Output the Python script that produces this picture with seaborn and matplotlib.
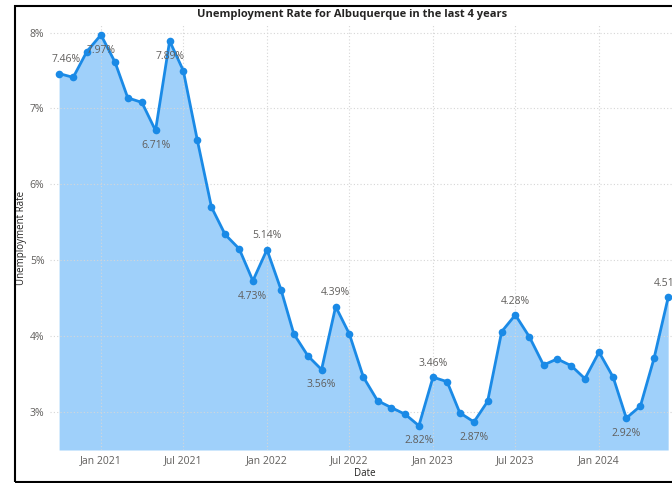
import pandas as pd
import seaborn as sns
import matplotlib.pyplot as plt
from matplotlib.patches import Rectangle
from matplotlib.ticker import FuncFormatter

# monthly unemployment rate, Oct 2020 - Jun 2024
months = pd.date_range("2020-10-01", "2024-06-01", freq="MS")
rates = [
    7.46, 7.41, 7.75, 7.97, 7.61, 7.14, 7.08, 6.71, 7.89, 7.50, 6.58, 5.70,
    5.34, 5.15, 4.73, 5.14, 4.61, 4.03, 3.74, 3.56, 4.39, 4.03, 3.46, 3.15,
    3.06, 2.97, 2.82, 3.46, 3.40, 2.99, 2.87, 3.14, 4.06, 4.28, 3.99, 3.62,
    3.70, 3.61, 3.44, 3.79, 3.46, 2.92, 3.08, 3.71, 4.51,
]
# which points get a data label, and on which side
label_months = ["2020-10", "2021-01", "2021-05", "2021-06", "2021-12", "2022-01",
                "2022-05", "2022-06", "2022-12", "2023-01", "2023-04", "2023-07",
                "2024-03", "2024-06"]
label_side = ["above", "below", "below", "below", "below", "above",
              "below", "above", "below", "above", "below", "above",
              "below", "above"]
tick_months = ["2021-01", "2021-07", "2022-01", "2022-07", "2023-01", "2023-07", "2024-01"]
tick_labels = ["Jan 2021", "Jul 2021", "Jan 2022", "Jul 2022", "Jan 2023", "Jul 2023", "Jan 2024"]
y_ticks = [3, 4, 5, 6, 7, 8]

df = pd.DataFrame({"Date": months, "Rate": rates})

sns.set_theme(style="white")
plt.rcParams["font.family"] = ["Open Sans", "DejaVu Sans"]

line_color = "#1a8ae6"
fill_color = "#9fd0fa"
grey = "#605e5c"

fig = plt.figure(figsize=(6.72, 4.83), dpi=100)
ax = fig.add_axes([50 / 672, 33 / 483, 630 / 672, 425 / 483])

ymin, ymax = 2.5, 8.1
ax.fill_between(df["Date"], df["Rate"], ymin, color=fill_color, linewidth=0, zorder=1)
sns.lineplot(data=df, x="Date", y="Rate", ax=ax, color=line_color, linewidth=2,
             marker="o", markersize=5.5, markeredgewidth=0, zorder=3)

# data labels (the first one is nudged right, away from the axis edge)
for i, (m, side) in enumerate(zip(label_months, label_side)):
    row = df[df["Date"] == pd.Timestamp(m + "-01")].iloc[0]
    dy = 10 if side == "above" else -11
    dx = 5 if i == 0 else 0
    ax.annotate(f"{row['Rate']:.2f}%", (row["Date"], row["Rate"]),
                xytext=(dx, dy), textcoords="offset points",
                ha="center", va="center", fontsize=7.5, color=grey, zorder=4)

ax.set_ylim(ymin, ymax)
ax.set_xlim(months[0] - pd.Timedelta(days=20), months[-1] + pd.Timedelta(days=26))
ax.set_yticks(y_ticks)
ax.yaxis.set_major_formatter(FuncFormatter(lambda v, _: f"{v:.0f}%"))
ax.set_xticks([pd.Timestamp(m + "-01") for m in tick_months])
ax.set_xticklabels(tick_labels)
ax.tick_params(axis="both", length=0, labelsize=7.5, labelcolor=grey, pad=4)

ax.set_axisbelow("line")
ax.grid(True, color="#d6d6d6", linestyle=(0, (1, 2)), linewidth=0.8)
for s in ax.spines.values():
    s.set_visible(False)

ax.set_xlabel("Date", fontsize=7, color="#252423", labelpad=1)
ax.set_ylabel("Unemployment Rate", fontsize=7, color="#252423", labelpad=2)

fig.text(352 / 672, 1 - 14 / 483, "Unemployment Rate for Albuquerque in the last 4 years",
         ha="center", va="center", fontsize=8, fontweight="bold", color="#252423")

# black frame around the visual
fig.patches.append(Rectangle((15 / 672, 1.5 / 483), 700 / 672, 476 / 483,
                             transform=fig.transFigure, fill=False,
                             edgecolor="black", linewidth=1.5, zorder=10))

fig.savefig("out.png", dpi=100)
